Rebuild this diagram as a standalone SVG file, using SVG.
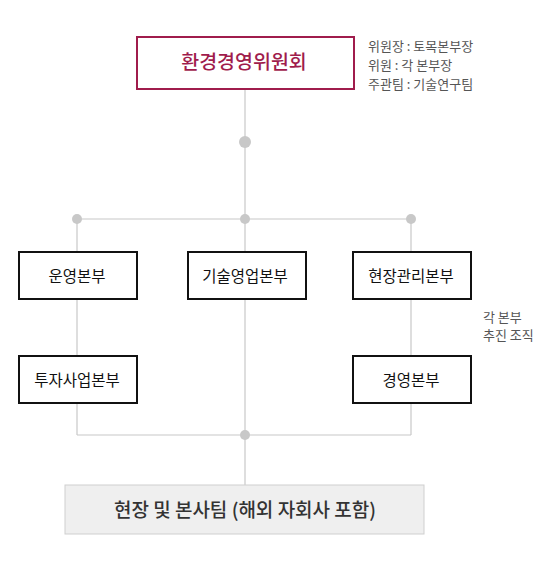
<svg xmlns="http://www.w3.org/2000/svg" width="539" height="561" viewBox="0 0 539 561">
<style>
text{font-family:"Noto Sans CJK KR","Noto Sans",sans-serif;}
.ln{stroke:#c8c8c8;stroke-width:1.2;fill:none}
.dot{fill:#c8c8c8}
.box{fill:#fff;stroke:#111;stroke-width:2}
.bt{font-size:15.5px;fill:#111;text-anchor:middle}
.note{font-size:13px;fill:#555}
</style>
<rect width="539" height="561" fill="#fff"/>
<g id="connectors">
<path class="ln" d="M245,89V485M77,219H411M77,219V435M411,219V435M77,435H411"/>
<circle class="dot" cx="245" cy="142" r="6"/>
<circle class="dot" cx="77" cy="219" r="5"/>
<circle class="dot" cx="245" cy="219" r="5"/>
<circle class="dot" cx="411" cy="219" r="5"/>
<circle class="dot" cx="245" cy="435" r="5"/>
</g>
<g id="committee">
<rect x="137" y="37" width="217" height="52" fill="#fff" stroke="#a01c4c" stroke-width="2"/>
<text x="244" y="69" font-size="19.5" font-weight="500" fill="#a01c4c" text-anchor="middle">환경경영위원회</text>
</g>
<g id="committee-note">
<text class="note" x="368" y="51">위원장 : 토목본부장</text>
<text class="note" x="368" y="70">위원 : 각 본부장</text>
<text class="note" x="368" y="89">주관팀 : 기술연구팀</text>
</g>
<g id="n1"><rect class="box" x="19" y="252" width="118" height="47"/><text class="bt" x="77" y="282">운영본부</text></g>
<g id="n2"><rect class="box" x="188" y="252" width="118" height="47"/><text class="bt" x="245" y="282">기술영업본부</text></g>
<g id="n3"><rect class="box" x="353" y="252" width="118" height="47"/><text class="bt" x="411" y="282">현장관리본부</text></g>
<g id="n4"><rect class="box" x="19" y="356" width="118" height="47"/><text class="bt" x="77" y="386">투자사업본부</text></g>
<g id="n5"><rect class="box" x="353" y="356" width="118" height="47"/><text class="bt" x="411" y="386">경영본부</text></g>
<g id="note2">
<text class="note" x="483" y="322" fill="#666">각 본부</text>
<text class="note" x="483" y="340" fill="#666">추진 조직</text>
</g>
<g id="bottom">
<rect x="65" y="485" width="359" height="49" fill="#efefef" stroke="#cfcfcf" stroke-width="1"/>
<text x="245" y="517" font-size="19" font-weight="500" fill="#333" text-anchor="middle">현장 및 본사팀 (해외 자회사 포함)</text>
</g>
</svg>
